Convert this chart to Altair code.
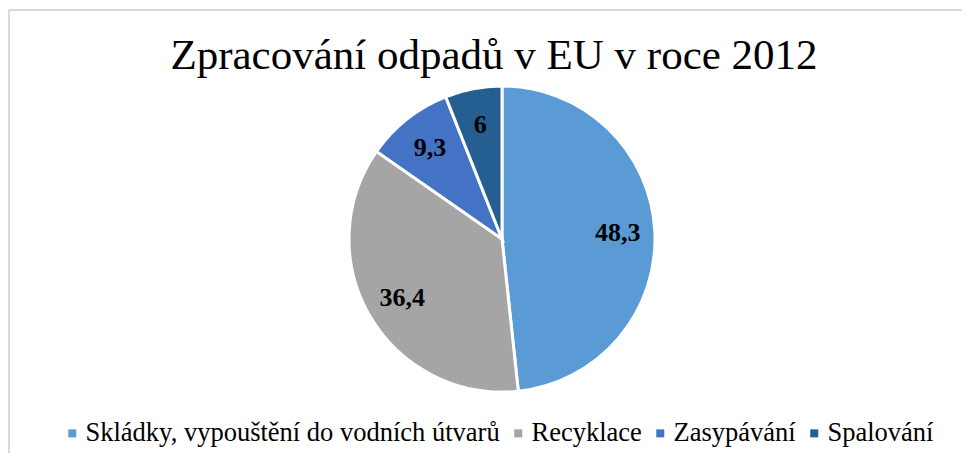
import altair as alt
import pandas as pd

TITLE = "Zpracování odpadů v EU v roce 2012"
categories = ["Skládky, vypouštění do vodních útvarů", "Recyklace", "Zasypávání", "Spalování"]
values = [48.3, 36.4, 9.3, 6]
colors = ["#5B9BD5", "#A5A5A5", "#4472C4", "#255E91"]

df = pd.DataFrame({
    "cat": categories,
    "val": values,
    "idx": list(range(len(categories))),
    "label": [f"{v:g}".replace(".", ",") for v in values],
})

W, H = 954, 445
CX, CY, R = 494, 231, 153
FONT = "Liberation Serif"

base = alt.Chart(df).encode(
    theta=alt.Theta("val:Q", stack=True),
    order=alt.Order("idx:O", sort="ascending"),
)

arcs = base.mark_arc(stroke="white", strokeWidth=3).encode(
    x=alt.value(CX), y=alt.value(CY), radius=alt.value(R),
    color=alt.Color(
        "cat:N",
        scale=alt.Scale(domain=categories, range=colors),
        sort=categories,
        legend=alt.Legend(
            title=None, orient="none", direction="horizontal", columns=4,
            legendX=51, legendY=412, padding=0,
            symbolType="square", symbolSize=64, symbolStrokeWidth=0,
            labelFont=FONT, labelFontSize=26.5, labelColor="black",
            labelLimit=1000, labelOffset=0, columnPadding=5,
        ),
    ),
)

labels = base.mark_text(
    font=FONT, fontSize=26, fontWeight="bold", color="black",
    align="center", baseline="middle",
).encode(
    x=alt.value(CX), y=alt.value(CY), radius=alt.value(116), text="label:N",
)

title = alt.Chart(alt.Data(values=[{"t": TITLE}])).mark_text(
    font=FONT, fontSize=43, color="black", align="center", baseline="alphabetic",
).encode(x=alt.value(486), y=alt.value(61), text="t:N")

frame_data = alt.Data(values=[{"k": 1}])
left_line = alt.Chart(frame_data).mark_rule(color="#D9D9D9", strokeWidth=2).encode(
    x=alt.value(1), y=alt.value(2), y2=alt.value(H)
)
top_line = alt.Chart(frame_data).mark_rule(color="#D9D9D9", strokeWidth=2).encode(
    x=alt.value(1), x2=alt.value(W), y=alt.value(2)
)

chart = (
    alt.layer(left_line, top_line, arcs, labels, title)
    .properties(
        width=W, height=H, padding=0, background="white",
        autosize=alt.AutoSizeParams(type="none"),
    )
    .configure_view(stroke=None)
)

chart.save("out.html", embed_options={"renderer": "svg", "actions": False})
